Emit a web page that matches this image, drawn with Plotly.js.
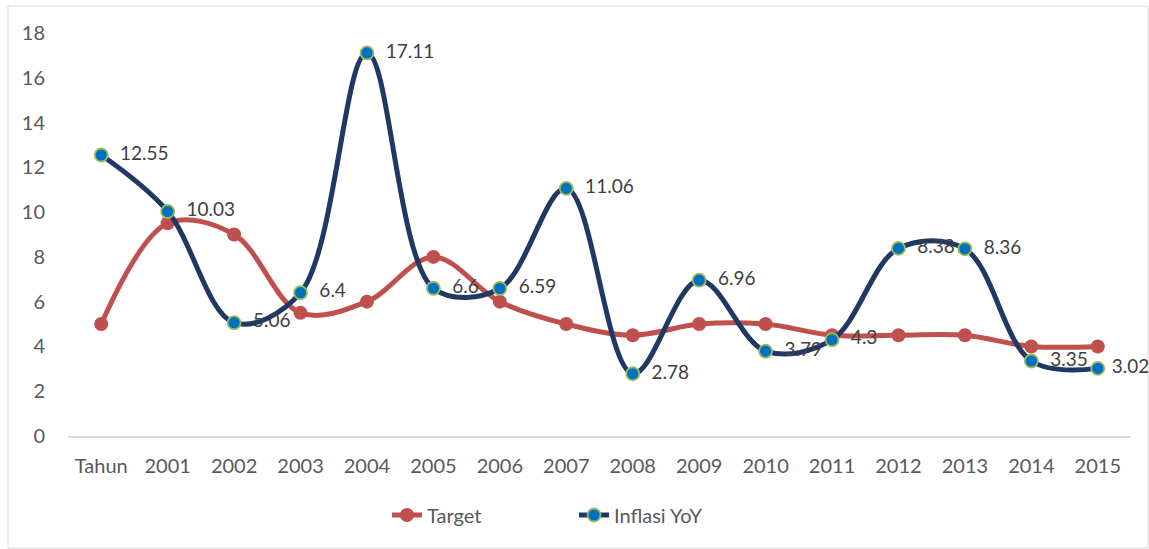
<!DOCTYPE html>
<html>
<head>
<meta charset="utf-8">
<script src="https://cdn.plot.ly/plotly-3.0.1.min.js"></script>
<style>html,body{margin:0;padding:0;background:#fff;}#chart{width:1149px;height:549px;}</style>
</head>
<body>
<div id="chart"></div>
<script>
const categories = ["Tahun","2001","2002","2003","2004","2005","2006","2007","2008","2009","2010","2011","2012","2013","2014","2015"];
const targetValues = [5, 9.5, 9, 5.5, 6, 8, 6, 5, 4.5, 5, 5, 4.5, 4.5, 4.5, 4, 4];
const inflasiValues = [12.55, 10.03, 5.06, 6.4, 17.11, 6.6, 6.59, 11.06, 2.78, 6.96, 3.79, 4.3, 8.38, 8.36, 3.35, 3.02];
const inflasiLabels = ["12.55","10.03","5.06","6.4","17.11","6.6","6.59","11.06","2.78","6.96","3.79","4.3","8.38","8.36","3.35","3.02"];
const yTicks = [0,2,4,6,8,10,12,14,16,18];

const FONT = "Lato, 'Open Sans', sans-serif";

const labelTemplates = inflasiLabels.map((_, i) =>
  i === inflasiLabels.length - 1 ? "\u00A0%{text}" : "\u00A0\u00A0%{text}");

const traces = [
  {
    type: "scatter", mode: "lines+markers", name: "Target",
    x: categories, y: targetValues,
    line: {color: "#C0504D", width: 5, shape: "spline", smoothing: 1},
    marker: {color: "#C0504D", size: 14},
    cliponaxis: false
  },
  {
    type: "scatter", mode: "lines+markers+text", name: "Inflasi YoY",
    x: categories, y: inflasiValues,
    text: inflasiLabels, textposition: "middle right",
    texttemplate: labelTemplates,
    textfont: {family: FONT, size: 19, color: "#404040"},
    line: {color: "#1F3864", width: 5, shape: "spline", smoothing: 1},
    marker: {color: "#0070C0", size: 13, line: {color: "#9BBB59", width: 1.8}},
    cliponaxis: false
  }
];

const layout = {
  width: 1149, height: 549,
  margin: {l: 68, r: 18, t: 33, b: 113},
  paper_bgcolor: "#fff", plot_bgcolor: "#fff",
  font: {family: FONT, size: 20, color: "#595959"},
  showlegend: true,
  legend: {orientation: "h", x: (387-68)/1063, xanchor: "left", y: -0.196, yanchor: "middle",
           entrywidth: 142, entrywidthmode: "pixels",
           font: {family: FONT, size: 20, color: "#595959"}},
  xaxis: {
    type: "category", categoryarray: categories, range: [-0.5, 15.5],
    showgrid: false, zeroline: false, showline: true, linecolor: "#D9D9D9", linewidth: 1.5,
    ticks: "", ticklabelstandoff: 11,
    tickfont: {family: FONT, size: 20, color: "#595959"}
  },
  yaxis: {
    range: [0, 18], tickvals: yTicks, ticktext: yTicks.map(String),
    showgrid: false, zeroline: false, showline: false, ticks: "",
    ticklabelstandoff: 22,
    tickfont: {family: FONT, size: 20, color: "#595959"}
  },
  shapes: [{
    type: "rect", xref: "paper", yref: "paper",
    x0: (8-68)/1063, x1: (1148-68)/1063, y0: (436-548)/403, y1: (436-6)/403,
    line: {color: "#D9D9D9", width: 1}, fillcolor: "rgba(0,0,0,0)", layer: "below"
  }]
};

Plotly.newPlot("chart", traces, layout, {displayModeBar: false, staticPlot: true});
</script>
</body>
</html>
